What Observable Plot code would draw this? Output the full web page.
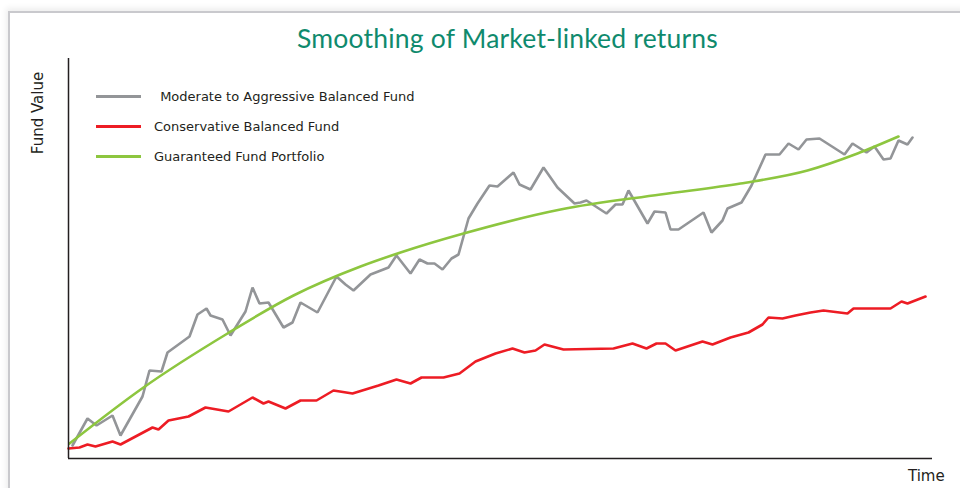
<!DOCTYPE html>
<html>
<head>
<meta charset="utf-8">
<script src="https://cdn.jsdelivr.net/npm/d3@7"></script>
<script src="https://cdn.jsdelivr.net/npm/@observablehq/plot@0.6"></script>
<style>
  html, body { margin: 0; padding: 0; background: #fff; }
  #wrap { position: relative; width: 960px; height: 488px; overflow: hidden; background: #fff; }
  #frame { position: absolute; left: 8px; top: 11px; right: -20px; bottom: -20px;
           border-top: 2px solid #c9c9cd; border-left: 2px solid #c9c9cd;
           box-shadow: -2px -3px 6px rgba(0,0,0,0.07); }
  #title { position: absolute; left: 507.5px; top: 25px; transform: translateX(-50%);
           font-family: Lato, "Open Sans", sans-serif; font-size: 26.5px; line-height: 1;
           color: #0f8a6d; white-space: nowrap; }
  #chart { position: absolute; left: 0; top: 58px; }
  .lab { position: absolute; font-family: "DejaVu Sans", Verdana, sans-serif; color: #231f20; white-space: nowrap; }
  .leg-line { position: absolute; left: 96px; width: 45px; height: 3px; }
  .leg-text { position: absolute; font-family: "DejaVu Sans", Verdana, sans-serif; font-size: 13px;
              line-height: 13px; color: #231f20; white-space: nowrap; }
</style>
</head>
<body>
<div id="wrap">
  <div id="frame"></div>
  <div id="title">Smoothing of Market-linked returns</div>
  <div id="chart"></div>
  <div id="legend"></div>
  <div class="lab" id="ylab" style="left:38px; top:113px; font-size:15px; line-height:15px; transform: translate(-50%,-50%) rotate(-90deg);">Fund Value</div>
  <div class="lab" id="xlab" style="left:908px; top:469px; font-size:15px; line-height:15px;">Time</div>
</div>
<script>
// Series names and colours
const seriesNames = [" Moderate to Aggressive Balanced Fund", "Conservative Balanced Fund", "Guaranteed Fund Portfolio"];
const seriesColors = ["#939598", "#ed1c24", "#8dc63f"];

// Moderate to Aggressive Balanced Fund (time, value)
const grayTime  = [4, 19, 28, 44, 52, 74, 81, 93, 99, 121, 129, 138, 142, 154, 162, 177, 184, 191, 200, 215, 224, 232, 249, 268, 277, 285, 302, 320, 328, 342, 351, 359, 366, 374, 383, 390, 400, 409, 421, 429, 445, 451, 462, 475, 489, 506, 512, 518, 538, 547, 554, 560, 579, 586, 597, 602, 610, 635, 643, 654, 659, 673, 683, 697, 711, 720, 730, 738, 751, 776, 784, 798, 806, 815, 822, 830, 839, 844];
const grayValue = [13, 40, 33, 43, 23, 62, 88, 87, 106, 122, 144, 150, 143, 139, 123, 147, 171, 155, 156, 131, 136, 156, 146, 182, 174, 168, 184, 191, 203, 185, 199, 195, 195, 189, 200, 204, 240, 255, 273, 272, 286, 274, 269, 291, 271, 255, 256, 258, 245, 254, 254, 268, 235, 247, 246, 229, 229, 246, 226, 238, 250, 256, 273, 304, 304, 315, 309, 319, 320, 304, 315, 306, 312, 299, 300, 318, 314, 321];

// Conservative Balanced Fund
const redTime  = [0, 11, 19, 27, 44, 52, 84, 90, 100, 120, 137, 160, 184, 195, 200, 217, 232, 248, 265, 284, 310, 328, 342, 353, 375, 391, 407, 427, 444, 456, 467, 476, 495, 545, 564, 578, 588, 597, 607, 634, 644, 662, 680, 694, 700, 714, 727, 742, 755, 779, 785, 822, 833, 839, 857];
const redValue = [10, 11, 14, 12, 17, 14, 31, 29, 38, 42, 51, 47, 61, 55, 57, 50, 58, 58, 68, 65, 73, 79, 75, 81, 81, 85, 97, 105, 110, 106, 108, 114, 109, 110, 115, 110, 115, 115, 108, 117, 114, 121, 126, 134, 141, 140, 143, 146, 148, 145, 150, 150, 157, 155, 162];

// Guaranteed Fund Portfolio (smooth curve)
const greenTime  = [1, 75, 159, 225, 292, 332, 395, 492, 592, 672, 739, 789, 830];
const greenValue = [15, 71, 125, 163, 192, 206, 225, 249, 264, 275, 288, 305, 322];

const gray  = grayTime.map((t, i) => ({t, v: grayValue[i]}));
const red   = redTime.map((t, i) => ({t, v: redValue[i]}));
const green = greenTime.map((t, i) => ({t, v: greenValue[i]}));

const chart = Plot.plot({
  width: 960,
  height: 430,
  marginLeft: 68,
  marginRight: 28,
  marginTop: 0,
  marginBottom: 30,
  style: {background: "transparent", overflow: "visible"},
  x: {domain: [0, 864], axis: null},
  y: {domain: [0, 400], axis: null},
  marks: [
    Plot.line(gray,  {x: "t", y: "v", stroke: seriesColors[0], strokeWidth: 2.6, strokeLinejoin: "miter"}),
    Plot.line(red,   {x: "t", y: "v", stroke: seriesColors[1], strokeWidth: 2.6, strokeLinejoin: "miter"}),
    Plot.line(green, {x: "t", y: "v", stroke: seriesColors[2], strokeWidth: 2.6, curve: "monotone-x"}),
    Plot.ruleX([0], {stroke: "#231f20", strokeWidth: 1.5}),
    Plot.ruleY([0], {stroke: "#231f20", strokeWidth: 1.5})
  ]
});
document.getElementById("chart").appendChild(chart);

// Legend (HTML)
const legend = document.getElementById("legend");
const legTops = [96, 126, 156];
const textLeft = [156, 154, 154];
seriesNames.forEach((name, i) => {
  const ln = document.createElement("div");
  ln.className = "leg-line";
  ln.style.top = (legTops[i] - 1) + "px";
  ln.style.background = seriesColors[i];
  legend.appendChild(ln);
  const tx = document.createElement("div");
  tx.className = "leg-text";
  tx.style.left = textLeft[i] + "px";
  tx.style.top = (legTops[i] - 6) + "px";
  tx.style.whiteSpace = "pre";
  tx.textContent = name;
  legend.appendChild(tx);
});

// Fit title width to reference (about 421px)
const title = document.getElementById("title");
const w = title.getBoundingClientRect().width;
const n = title.textContent.length;
title.style.letterSpacing = ((421 - w) / (n - 1)).toFixed(2) + "px";
</script>
</body>
</html>
